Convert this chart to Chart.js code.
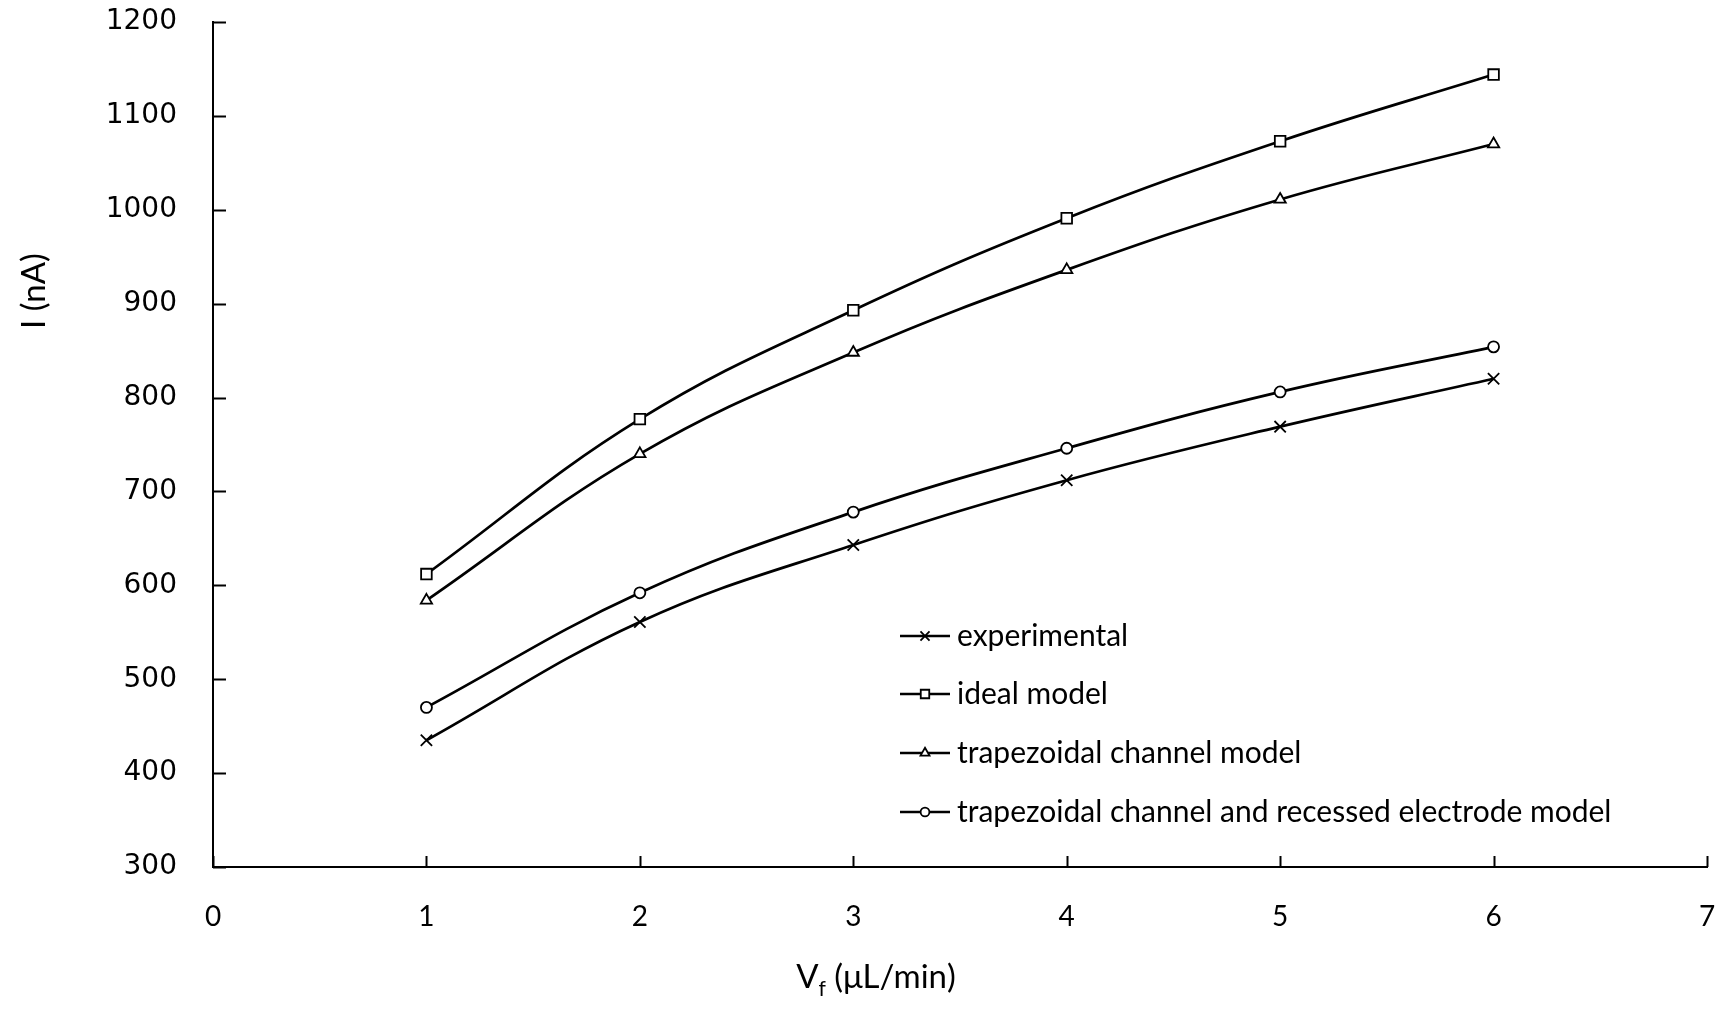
<!DOCTYPE html>
<html>
<head>
<meta charset="utf-8">
<script src="https://cdn.jsdelivr.net/npm/chart.js@4.4.0/dist/chart.umd.min.js"></script>
<style>
  html, body { margin: 0; padding: 0; background: #fff; }
  #wrap { width: 1731px; height: 1031px; }
</style>
</head>
<body>
<div id="wrap"><canvas id="c" width="1731" height="1031"></canvas></div>
<script>
// flow rate (uL/min) and current (nA)
const flowRates = [1, 2, 3, 4, 5, 6];
const experimental = [435, 561, 643, 712, 769, 820];
const idealModel = [612, 777, 893, 991, 1073, 1144];
const trapezoidal = [584, 740, 848, 936, 1011, 1070];
const trapRecessed = [470, 592, 678, 746, 806, 854];

const seriesLabels = [
    'experimental',
    'ideal model',
    'trapezoidal channel model',
    'trapezoidal channel and recessed electrode model'
];
const seriesMarkers = ['crossRot', 'rect', 'triangle', 'circle'];
const markerSizes = [8, 7.5, 6.5, 5.5];
const xTicks = [0, 1, 2, 3, 4, 5, 6, 7];
const yTicks = [300, 400, 500, 600, 700, 800, 900, 1000, 1100, 1200];

const pts = arr => flowRates.map((x, i) => ({ x: x, y: arr[i] }));

const makeSet = (i, arr) => ({
    label: seriesLabels[i],
    data: pts(arr),
    borderColor: '#000',
    backgroundColor: '#fff',
    borderWidth: 2.7,
    tension: 0.4,
    pointStyle: seriesMarkers[i],
    pointRadius: markerSizes[i],
    pointBorderWidth: 1.8,
    pointBorderColor: '#000',
    pointBackgroundColor: '#fff'
});

// inward tick marks, axis titles and the in-plot legend
const extras = {
    id: 'extras',
    afterDraw(chart) {
        const ctx = chart.ctx;
        const xs = chart.scales.x, ys = chart.scales.y;
        const area = chart.chartArea;
        ctx.save();
        ctx.strokeStyle = '#000';
        ctx.lineWidth = 2;
        xTicks.forEach(v => {
            const px = Math.round(xs.getPixelForValue(v)) + 0.5;
            ctx.beginPath();
            ctx.moveTo(px, area.bottom);
            ctx.lineTo(px, area.bottom - 11);
            ctx.stroke();
        });
        yTicks.forEach(v => {
            const py = Math.round(ys.getPixelForValue(v)) + 0.5;
            ctx.beginPath();
            ctx.moveTo(area.left, py);
            ctx.lineTo(area.left + 13, py);
            ctx.stroke();
        });

        // y title
        ctx.fillStyle = '#000';
        ctx.font = '33px Lato';
        ctx.textAlign = 'center';
        ctx.textBaseline = 'middle';
        ctx.save();
        ctx.translate(34, 291);
        ctx.rotate(-Math.PI / 2);
        ctx.fillText('I (nA)', 0, 0);
        ctx.restore();

        // x title with subscript
        const main1 = 'V', sub = 'f', main2 = ' (\u03bcL/min)';
        ctx.font = '33px Lato';
        const w1 = ctx.measureText(main1).width;
        const w3 = ctx.measureText(main2).width;
        ctx.font = '21px Lato';
        const w2 = ctx.measureText(sub).width;
        let x0 = 876 - (w1 + w2 + w3) / 2;
        ctx.textAlign = 'left';
        ctx.textBaseline = 'alphabetic';
        ctx.font = '33px Lato';
        ctx.fillText(main1, x0, 988);
        ctx.font = '21px Lato';
        ctx.fillText(sub, x0 + w1, 996);
        ctx.font = '33px Lato';
        ctx.fillText(main2, x0 + w1 + w2, 988);

        // legend
        const rowY = [636, 694, 753, 812];
        chart.data.datasets.forEach((ds, i) => {
            const y = rowY[i];
            ctx.strokeStyle = '#000';
            ctx.lineWidth = 2.7;
            ctx.beginPath();
            ctx.moveTo(900, y);
            ctx.lineTo(950, y);
            ctx.stroke();
            ctx.lineWidth = 1.8;
            ctx.fillStyle = '#fff';
            Chart.helpers.drawPoint(ctx, { pointStyle: ds.pointStyle, radius: ds.pointRadius * 0.8, rotation: 0, borderWidth: 1.8 }, 925, y);
            ctx.fillStyle = '#000';
            ctx.font = '30px Lato';
            ctx.textAlign = 'left';
            ctx.textBaseline = 'middle';
            ctx.fillText(ds.label, 957, y);
        });
        ctx.restore();
    }
};

new Chart(document.getElementById('c').getContext('2d'), {
    type: 'line',
    data: {
        datasets: [
            makeSet(0, experimental),
            makeSet(1, idealModel),
            makeSet(2, trapezoidal),
            makeSet(3, trapRecessed)
        ]
    },
    options: {
        responsive: false,
        animation: false,
        layout: { padding: { left: 0, right: 24, top: 22, bottom: 0 } },
        plugins: { legend: { display: false }, tooltip: { enabled: false } },
        scales: {
            x: {
                type: 'linear',
                min: 0, max: 7,
                // invisible outer ticks just push the labels away from the axis
                grid: { display: true, drawOnChartArea: false, drawTicks: true, tickLength: 33, tickColor: 'rgba(0,0,0,0)' },
                border: { display: true, color: '#000', width: 2 },
                afterFit: s => { s.height = 164; },
                ticks: {
                    stepSize: 1,
                    padding: 0,
                    color: '#000',
                    font: { family: 'Lato', size: 28 }
                }
            },
            y: {
                min: 300, max: 1200,
                grid: { display: true, drawOnChartArea: false, drawTicks: true, tickLength: 36, tickColor: 'rgba(0,0,0,0)' },
                border: { display: true, color: '#000', width: 2 },
                afterFit: s => { s.width = 213; },
                ticks: {
                    stepSize: 100,
                    padding: 0,
                    color: '#000',
                    font: { family: 'DejaVu Sans', size: 28 },
                    callback: v => String(v)
                }
            }
        }
    },
    plugins: [extras]
});
</script>
</body>
</html>
